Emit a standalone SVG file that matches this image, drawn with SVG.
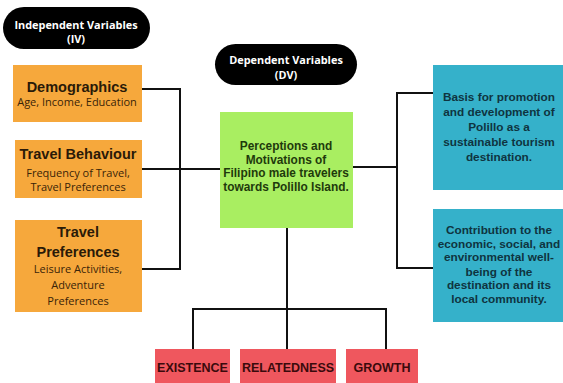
<svg xmlns="http://www.w3.org/2000/svg" width="563" height="383" viewBox="0 0 563 383">
  <style>
    .pill { fill: #000; }
    .pill-t { font-family: "Open Sans", "Liberation Sans", sans-serif; font-weight: 700; font-size: 10.9px; fill: #fff; text-anchor: middle; }
    .iv { fill: #F6A83C; }
    .dv { fill: #A9EE61; }
    .out { fill: #35B1CA; }
    .erg { fill: #EF575E; }
    .h { font-family: "Liberation Sans", "Open Sans", sans-serif; font-weight: 700; font-size: 14.5px; fill: #2a1a08; text-anchor: middle; }
    .s { font-family: "Open Sans", "Liberation Sans", sans-serif; font-size: 11px; fill: #3a2408; text-anchor: middle; }
    .g { font-family: "Liberation Sans", "Open Sans", sans-serif; font-weight: 700; font-size: 11.9px; fill: #1f3a0c; text-anchor: middle; }
    .b { font-family: "Liberation Sans", "Open Sans", sans-serif; font-weight: 700; font-size: 11.8px; fill: #0f3440; text-anchor: middle; }
    .r { font-family: "Liberation Sans", "Open Sans", sans-serif; font-weight: 700; font-size: 12.5px; fill: #3a0a0c; text-anchor: middle; }
    .wire { fill: none; stroke: #111; stroke-width: 2; }
  </style>
  <rect width="563" height="383" fill="#fff"/>

  <!-- connectors -->
  <g id="connectors" class="wire">
    <path d="M142 89 H180 V269 H142 M142 169 H220"/>
    <path d="M353 167 H397 M433 93 H397 V268 H433"/>
    <path d="M287 228 V349 M193 349 V309 H386 V349"/>
  </g>

  <g id="iv-label">
    <rect class="pill" x="3" y="7" width="147" height="42" rx="21"/>
    <text class="pill-t" x="76" y="29">Independent Variables</text>
    <text class="pill-t" x="76" y="43">(IV)</text>
  </g>

  <g id="dv-label">
    <rect class="pill" x="215" y="44" width="142" height="41" rx="20.5"/>
    <text class="pill-t" x="286" y="64">Dependent Variables</text>
    <text class="pill-t" x="286" y="79">(DV)</text>
  </g>

  <g id="demographics">
    <rect class="iv" x="13" y="65" width="129" height="57"/>
    <text class="h" x="77" y="92">Demographics</text>
    <text class="s" x="77" y="106">Age, Income, Education</text>
  </g>

  <g id="travel-behaviour">
    <rect class="iv" x="15" y="140" width="127" height="58"/>
    <text class="h" x="78" y="159">Travel Behaviour</text>
    <text class="s" x="78" y="177">Frequency of Travel,</text>
    <text class="s" x="78" y="191">Travel Preferences</text>
  </g>

  <g id="travel-preferences">
    <rect class="iv" x="15" y="220" width="127" height="92"/>
    <text class="h" x="78" y="237">Travel</text>
    <text class="h" x="78" y="257">Preferences</text>
    <text class="s" x="78" y="273">Leisure Activities,</text>
    <text class="s" x="78" y="289">Adventure</text>
    <text class="s" x="78" y="305">Preferences</text>
  </g>

  <g id="perceptions">
    <rect class="dv" x="220" y="112" width="133" height="116"/>
    <text class="g" x="286" y="150">Perceptions and</text>
    <text class="g" x="286" y="163.7">Motivations of</text>
    <text class="g" x="286" y="177.4">Filipino male travelers</text>
    <text class="g" x="286" y="191.1">towards Polillo Island.</text>
  </g>

  <g id="promotion">
    <rect class="out" x="433" y="65" width="130" height="125"/>
    <text class="b" x="499" y="101">Basis for promotion</text>
    <text class="b" x="499" y="115.5">and development of</text>
    <text class="b" x="499" y="131">Polillo as a</text>
    <text class="b" x="499" y="146">sustainable tourism</text>
    <text class="b" x="499" y="160.5">destination.</text>
  </g>

  <g id="contribution">
    <rect class="out" x="433" y="209" width="130" height="113"/>
    <text class="b" x="499" y="234">Contribution to the</text>
    <text class="b" x="499" y="247.7">economic, social, and</text>
    <text class="b" x="499" y="261.4">environmental well-</text>
    <text class="b" x="499" y="275.5">being of the</text>
    <text class="b" x="499" y="289.2">destination and its</text>
    <text class="b" x="499" y="302.9">local community.</text>
  </g>

  <g id="existence">
    <rect class="erg" x="155" y="349" width="75" height="34"/>
    <text class="r" x="192.5" y="371.5">EXISTENCE</text>
  </g>

  <g id="relatedness">
    <rect class="erg" x="240" y="349" width="96" height="34"/>
    <text class="r" x="288" y="371.5">RELATEDNESS</text>
  </g>

  <g id="growth">
    <rect class="erg" x="346" y="349" width="72" height="34"/>
    <text class="r" x="382" y="371.5">GROWTH</text>
  </g>
</svg>
